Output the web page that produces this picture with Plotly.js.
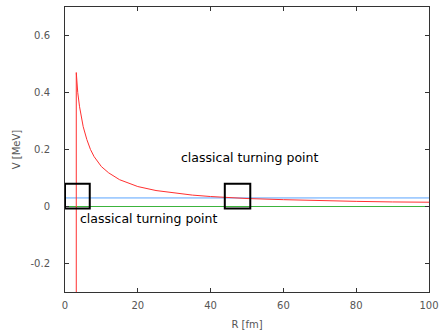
<!DOCTYPE html>
<html>
<head>
<meta charset="utf-8">
<script src="https://cdn.plot.ly/plotly-3.0.1.min.js"></script>
<style>html,body{margin:0;padding:0;background:#fff;}#chart{width:440px;height:331px;}</style>
</head>
<body>
<div id="chart"></div>
<script>
// Potential curve V(R) (starts with vertical wall at R≈3.1)
const potR = [3.1, 3.1, 3.5, 4, 5, 6, 7, 8, 10, 12, 15, 20, 25, 30, 35, 40, 45, 50, 60, 70, 80, 90, 100];
const potV = [-0.3, 0.47, 0.40, 0.35, 0.28, 0.235, 0.20, 0.175, 0.14, 0.118, 0.094, 0.07, 0.056, 0.047, 0.040, 0.035, 0.031, 0.028, 0.024, 0.020, 0.018, 0.016, 0.015];
// Energy level
const energyR = [0, 100];
const energyV = [0.03, 0.03];
// Zero line
const zeroR = [0, 100];
const zeroV = [0, 0];
// Turning point boxes [x0, x1, y0, y1]
const box1 = [0, 6.8, -0.007, 0.08];
const box2 = [43.9, 50.9, -0.007, 0.08];
// Labels
const labelText = "classical turning point";
const label1Pos = [3.6, -0.043];
const label2Pos = [31.3, 0.172];
// Ticks
const xTickVals = [0, 20, 40, 60, 80, 100];
const xTickText = ["0", "20", "40", "60", "80", "100"];
const yTickVals = [-0.2, 0, 0.2, 0.4, 0.6];
const yTickText = ["-0.2", "0", "0.2", "0.4", "0.6"];

const traces = [
  {x: zeroR, y: zeroV, mode: 'lines', line: {color: '#3cb43c', width: 1}, hoverinfo: 'skip'},
  {x: energyR, y: energyV, mode: 'lines', line: {color: '#5aa5ff', width: 1}, hoverinfo: 'skip'},
  {x: potR, y: potV, mode: 'lines', line: {color: '#ff3030', width: 1}, hoverinfo: 'skip'}
];

const tickFont = {family: 'DejaVu Sans', size: 10, color: '#555'};
const labelFont = {family: 'DejaVu Sans', size: 12.5, color: '#000'};
const layout = {
  width: 440, height: 331,
  margin: {l: 65, r: 11, t: 7, b: 39},
  paper_bgcolor: '#fff', plot_bgcolor: '#fff',
  showlegend: false,
  xaxis: {
    range: [0, 100], tickvals: xTickVals, ticktext: xTickText,
    ticks: 'inside', ticklen: 4, tickcolor: '#333', tickwidth: 1,
    showline: true, linecolor: '#333', linewidth: 1, mirror: 'allticks',
    showgrid: false, zeroline: false, tickfont: tickFont,
    ticklabelstandoff: 4,
    title: {text: 'R [fm]', font: tickFont, standoff: 10}
  },
  yaxis: {
    range: [-0.3, 0.7], tickvals: yTickVals, ticktext: yTickText,
    ticks: 'inside', ticklen: 4, tickcolor: '#333', tickwidth: 1,
    showline: true, linecolor: '#333', linewidth: 1, mirror: 'allticks',
    showgrid: false, zeroline: false, tickfont: tickFont,
    ticklabelstandoff: 12,
    title: {text: 'V [MeV]', font: tickFont, standoff: 7}
  },
  shapes: [
    {type: 'rect', xref: 'x', yref: 'y', x0: box1[0], x1: box1[1], y0: box1[2], y1: box1[3], line: {color: '#000', width: 2}},
    {type: 'rect', xref: 'x', yref: 'y', x0: box2[0], x1: box2[1], y0: box2[2], y1: box2[3], line: {color: '#000', width: 2}}
  ],
  annotations: [
    {x: label1Pos[0], y: label1Pos[1], xref: 'x', yref: 'y', text: labelText, showarrow: false, xanchor: 'left', yanchor: 'middle', font: labelFont},
    {x: label2Pos[0], y: label2Pos[1], xref: 'x', yref: 'y', text: labelText, showarrow: false, xanchor: 'left', yanchor: 'middle', font: labelFont}
  ]
};

Plotly.newPlot('chart', traces, layout, {displayModeBar: false, staticPlot: true});
</script>
</body>
</html>
